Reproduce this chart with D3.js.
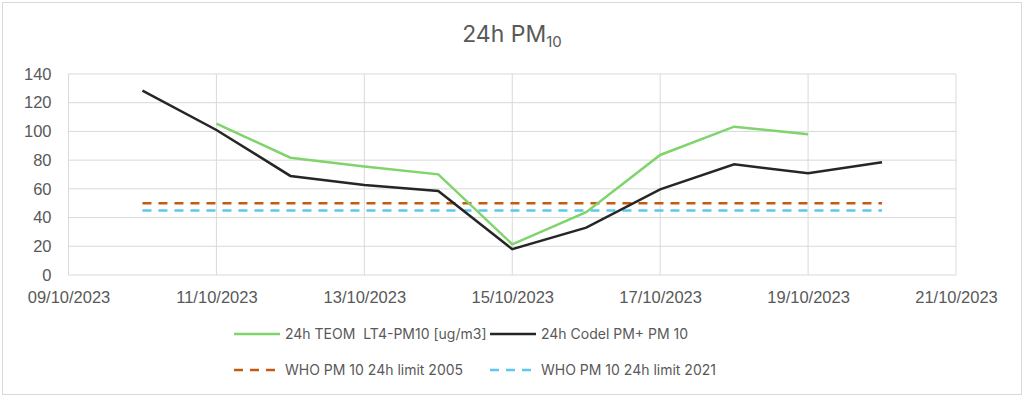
<!DOCTYPE html>
<html>
<head>
<meta charset="utf-8">
<script src="https://cdn.jsdelivr.net/npm/d3@7"></script>
<style>
  body { margin: 0; background: #fff; }
  svg { display: block; }
  .tick text { fill: #595959; font-size: 16.5px; font-family: "Liberation Sans", Arial, sans-serif; }
  .legend text { fill: #595959; font-size: 14px; font-family: Inter, "Noto Sans", sans-serif; white-space: pre; }
</style>
</head>
<body>
<div id="chart"></div>
<script>
const dates = ['2023-10-10', '2023-10-11', '2023-10-12', '2023-10-13', '2023-10-14', '2023-10-15',
  '2023-10-16', '2023-10-17', '2023-10-18', '2023-10-19', '2023-10-20'];
const teom = [null, 105.5, 81.7, 75.6, 70.1, 21.4, 43.7, 83.6, 103.3, 98.0, null];
const codel = [128.4, 101, 69, 62.7, 58.5, 18, 33, 59.7, 77.1, 70.8, 78.5];
const who2005 = [50, 50, 50, 50, 50, 50, 50, 50, 50, 50, 50];
const who2021 = [45, 45, 45, 45, 45, 45, 45, 45, 45, 45, 45];
const yTicks = [0, 20, 40, 60, 80, 100, 120, 140];
const xTicks = ['2023-10-09', '2023-10-11', '2023-10-13', '2023-10-15', '2023-10-17', '2023-10-19', '2023-10-21'];

const W = 1024, H = 397;
const margin = { top: 74, right: 68, bottom: 122, left: 68.5 };
const width = W - margin.left - margin.right;
const height = H - margin.top - margin.bottom;

const parse = d3.utcParse('%Y-%m-%d');
const fmt = d3.utcFormat('%d/%m/%Y');

const svg = d3.select('#chart').append('svg')
  .attr('width', W)
  .attr('height', H);

// outer frame
svg.append('rect')
  .attr('x', 2.5).attr('y', 2.5)
  .attr('width', W - 5).attr('height', H - 5)
  .attr('fill', '#fff')
  .attr('stroke', '#d9d9d9');

// title
const title = svg.append('text')
  .attr('x', 512).attr('y', 42)
  .attr('text-anchor', 'middle')
  .attr('fill', '#595959')
  .style('font-family', 'Inter, "Noto Sans", sans-serif')
  .style('font-size', '23px');
title.append('tspan').text('24h PM');
title.append('tspan').attr('dy', 5).style('font-size', '15px').text('10');

const g = svg.append('g')
  .attr('transform', `translate(${margin.left},${margin.top})`);

const x = d3.scaleUtc()
  .domain([parse('2023-10-09'), parse('2023-10-21')])
  .range([0, width]);

const y = d3.scaleLinear()
  .domain([0, 140])
  .range([height, 0]);

// gridlines
g.append('g')
  .selectAll('line.h')
  .data(yTicks)
  .join('line')
  .attr('x1', 0).attr('x2', width)
  .attr('y1', d => y(d)).attr('y2', d => y(d))
  .attr('stroke', '#d9d9d9').attr('stroke-width', 1);

g.append('g')
  .selectAll('line.v')
  .data(xTicks.map(parse))
  .join('line')
  .attr('x1', d => x(d)).attr('x2', d => x(d))
  .attr('y1', 0).attr('y2', height)
  .attr('stroke', '#d9d9d9').attr('stroke-width', 1);

// axes
const yAxis = g.append('g')
  .call(d3.axisLeft(y).tickValues(yTicks).tickSize(0).tickPadding(17));
yAxis.select('.domain').remove();

const xAxis = g.append('g')
  .attr('transform', `translate(0,${height})`)
  .call(d3.axisBottom(x).tickValues(xTicks.map(parse)).tickFormat(fmt).tickSize(0).tickPadding(16));
xAxis.select('.domain').remove();

// series
const line = d3.line()
  .defined(d => d.v != null)
  .x(d => x(d.date))
  .y(d => y(d.v));

const toPts = vals => dates.map((d, i) => ({ date: parse(d), v: vals[i] }));

const series = [
  { name: 'WHO PM 10 24h limit 2005', values: who2005, color: '#c55a11', dash: '9,7' },
  { name: 'WHO PM 10 24h limit 2021', values: who2021, color: '#5bc8f0', dash: '9,7' },
  { name: '24h TEOM  LT4-PM10 [ug/m3]', values: teom, color: '#7fd46c', dash: null },
  { name: '24h Codel PM+ PM 10', values: codel, color: '#262626', dash: null }
];

g.selectAll('path.series')
  .data(series)
  .join('path')
  .attr('class', 'series')
  .attr('fill', 'none')
  .attr('stroke', d => d.color)
  .attr('stroke-width', 2.5)
  .attr('stroke-dasharray', d => d.dash)
  .attr('d', d => line(toPts(d.values)));

// legend
const legendItems = [
  { s: series[2], x: 234, y: 334 },
  { s: series[3], x: 490, y: 334 },
  { s: series[0], x: 234, y: 370 },
  { s: series[1], x: 490, y: 370 }
];

const legend = svg.append('g').attr('class', 'legend');
const li = legend.selectAll('g')
  .data(legendItems)
  .join('g')
  .attr('transform', d => `translate(${d.x},${d.y})`);

li.append('line')
  .attr('x1', 0).attr('x2', 46)
  .attr('stroke', d => d.s.color)
  .attr('stroke-width', 2.5)
  .attr('stroke-dasharray', d => d.s.dash ? '9,7' : null);

li.append('text')
  .attr('x', 51).attr('dy', '0.35em')
  .text(d => d.s.name);
</script>
</body>
</html>
